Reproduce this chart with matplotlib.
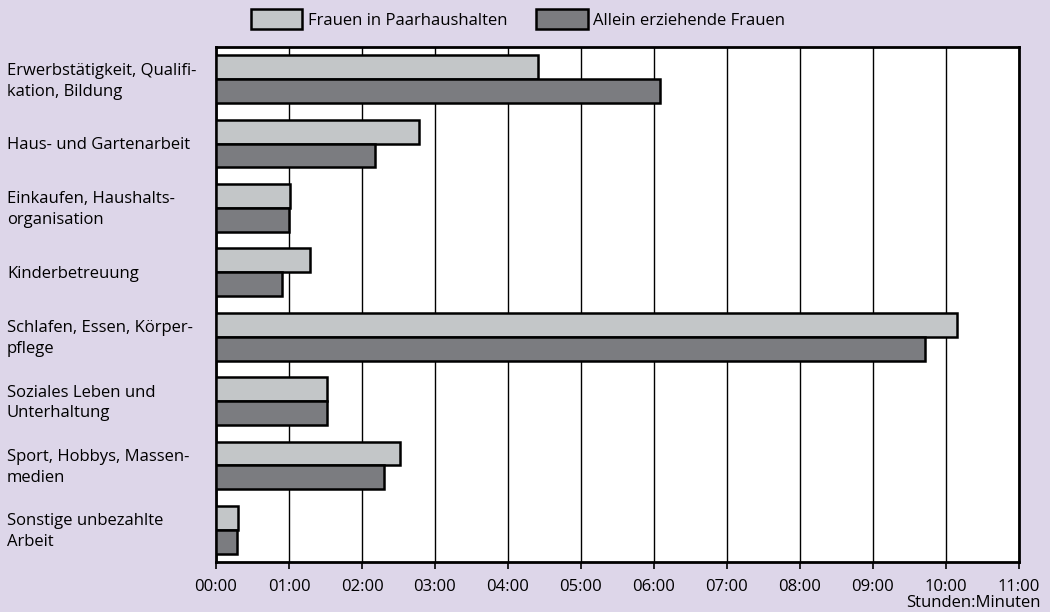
import numpy as np
import matplotlib.pyplot as plt
from matplotlib.ticker import FuncFormatter
from matplotlib.transforms import blended_transform_factory

# Daten: Zeitverwendung in Minuten pro Tag
categories = [
    "Erwerbstätigkeit, Qualifi-\nkation, Bildung",
    "Haus- und Gartenarbeit",
    "Einkaufen, Haushalts-\norganisation",
    "Kinderbetreuung",
    "Schlafen, Essen, Körper-\npflege",
    "Soziales Leben und\nUnterhaltung",
    "Sport, Hobbys, Massen-\nmedien",
    "Sonstige unbezahlte\nArbeit",
]
paar_min = [265, 167, 61, 77, 609, 91, 151, 18]
allein_min = [365, 131, 60, 54, 583, 91, 138, 17]
series_names = ["Frauen in Paarhaushalten", "Allein erziehende Frauen"]

bg = "#ddd6e9"
light = "#c3c6c8"
dark = "#7b7c80"

plt.rcParams['font.family'] = ['Open Sans', 'DejaVu Sans']

fig = plt.figure(figsize=(10.5, 6.12), dpi=100, facecolor=bg)
ax = fig.add_axes([216 / 1050, 1 - 562 / 612, 803 / 1050, 515 / 612])

y = np.arange(len(categories))
h = 0.37
paar_h = np.array(paar_min) / 60
allein_h = np.array(allein_min) / 60

ax.barh(y - h / 2, paar_h, height=h, color=light, edgecolor="black", linewidth=1.8,
        label=series_names[0], zorder=3)
ax.barh(y + h / 2, allein_h, height=h, color=dark, edgecolor="black", linewidth=1.8,
        label=series_names[1], zorder=3)

ax.set_xlim(0, 11)
ax.set_ylim(len(categories) - 0.5, -0.5)
ax.set_xticks(np.arange(0, 12))
ax.xaxis.set_major_formatter(FuncFormatter(lambda v, p: f"{int(v):02d}:00"))
ax.tick_params(axis="x", length=5, width=1.2, labelsize=12, pad=7)
ax.set_yticks([])
ax.grid(axis="x", color="black", linewidth=1.0, zorder=1)
for s in ax.spines.values():
    s.set_linewidth(2)

# Kategorienbeschriftung linksbündig
trans = blended_transform_factory(fig.transFigure, ax.transData)
for i, c in enumerate(categories):
    ax.text(7 / 1050, i + 0.03, c, transform=trans, ha="left", va="center",
            fontsize=12, linespacing=1.4)

fig.text(1041 / 1050, 1 - 603 / 612, "Stunden:Minuten", ha="right", va="center", fontsize=12)

fig.legend(loc="center", bbox_to_anchor=(518 / 1050, 1 - 19 / 612), ncol=2, frameon=False,
           fontsize=12, handlelength=3.1, handleheight=1.4, columnspacing=1.7, handletextpad=0.35)

fig.savefig("out.png", dpi=100, facecolor=bg)
